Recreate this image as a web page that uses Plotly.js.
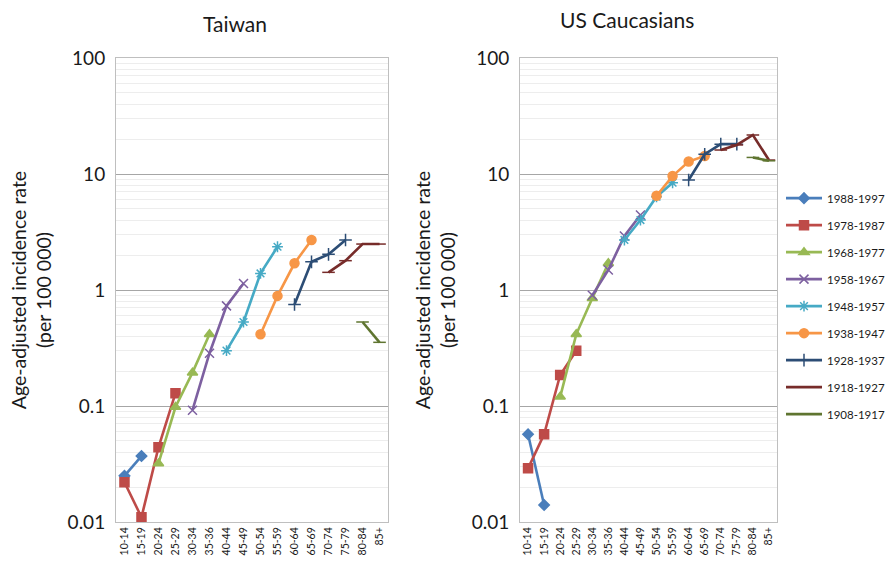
<!DOCTYPE html>
<html>
<head>
<meta charset="utf-8">
<script src="https://cdn.plot.ly/plotly-3.0.1.min.js"></script>
<style>html,body{margin:0;padding:0;background:#fff;}#chart{width:890px;height:565px;}</style>
</head>
<body>
<div id="chart"></div>
<script>
const ageGroups = ["10-14","15-19","20-24","25-29","30-34","35-36","40-44","45-49","50-54","55-59","60-64","65-69","70-74","75-79","80-84","85+"];
const cohorts = ["1988-1997","1978-1987","1968-1977","1958-1967","1948-1957","1938-1947","1928-1937","1918-1927","1908-1917"];
const yTickVals = [0.01, 0.1, 1, 10, 100];
const yTickText = ["0.01","0.1","1","10","100"];

// Taiwan, per 100 000 (null = not observed)
const tw_1988 = [0.025,0.037,null,null,null,null,null,null,null,null,null,null,null,null,null,null];
const tw_1978 = [0.022,0.011,0.044,0.129,null,null,null,null,null,null,null,null,null,null,null,null];
const tw_1968 = [null,null,0.032,0.098,0.194,0.415,null,null,null,null,null,null,null,null,null,null];
const tw_1958 = [null,null,null,null,0.092,0.285,0.73,1.14,null,null,null,null,null,null,null,null];
const tw_1948 = [null,null,null,null,null,null,0.30,0.53,1.39,2.36,null,null,null,null,null,null];
const tw_1938 = [null,null,null,null,null,null,null,null,0.415,0.89,1.70,2.70,null,null,null,null];
const tw_1928 = [null,null,null,null,null,null,null,null,null,null,0.75,1.75,2.03,2.70,null,null];
const tw_1918 = [null,null,null,null,null,null,null,null,null,null,null,null,1.42,1.79,2.49,2.49];
const tw_1908 = [null,null,null,null,null,null,null,null,null,null,null,null,null,null,0.53,0.354];

// US Caucasians, per 100 000
const us_1988 = [0.057,0.014,null,null,null,null,null,null,null,null,null,null,null,null,null,null];
const us_1978 = [0.029,0.057,0.185,0.30,null,null,null,null,null,null,null,null,null,null,null,null];
const us_1968 = [null,null,0.12,0.415,0.85,1.70,null,null,null,null,null,null,null,null,null,null];
const us_1958 = [null,null,null,null,0.90,1.49,2.92,4.43,null,null,null,null,null,null,null,null];
const us_1948 = [null,null,null,null,null,null,2.70,4.01,6.37,8.41,null,null,null,null,null,null];
const us_1938 = [null,null,null,null,null,null,null,null,6.5,9.6,12.8,14.3,null,null,null,null];
const us_1928 = [null,null,null,null,null,null,null,null,null,null,8.88,14.8,18.1,18.1,null,null];
const us_1918 = [null,null,null,null,null,null,null,null,null,null,null,null,16.1,17.8,21.7,13.2];
const us_1908 = [null,null,null,null,null,null,null,null,null,null,null,null,null,null,13.9,13.0];

const taiwanSeries = [tw_1988,tw_1978,tw_1968,tw_1958,tw_1948,tw_1938,tw_1928,tw_1918,tw_1908];
const usSeries = [us_1988,us_1978,us_1968,us_1958,us_1948,us_1938,us_1928,us_1918,us_1908];

const colors = ["#4A7EBB","#BE4B48","#98B954","#7D60A0","#46AAC5","#F79646","#2C4D75","#772C2A","#5F7530"];
const symbols = ["diamond","square","triangle-up","x-thin-open","asterisk-open","circle","cross-thin-open","line-ew-open","line-ew-open"];
const sizes = [8,9,9,9,9,9,9,9,9];

// minor gridline positions: 2..9 within each decade
const minorVals = [];
for (let e = -2; e < 2; e++) for (let m = 2; m <= 9; m++) minorVals.push(m * Math.pow(10, e));

const traces = [];
function addSet(series, xa, ya, show) {
  series.forEach((ys, i) => {
    traces.push({
      type: "scatter", mode: "lines+markers",
      x: ageGroups, y: ys, xaxis: xa, yaxis: ya,
      name: cohorts[i], legendgroup: "g" + i, showlegend: show,
      connectgaps: false,
      line: {color: colors[i], width: 2.6},
      marker: {symbol: symbols[i], size: sizes[i], color: colors[i], line: {color: colors[i], width: 1.5}}
    });
  });
}
addSet(taiwanSeries, "x", "y", true);
addSet(usSeries, "x2", "y2", false);

const font = "Lato, Open Sans, sans-serif";
const txt = "#1a1a1a";
function xax(domain, anchor) {
  return {
    domain: domain, anchor: anchor, type: "category",
    categoryorder: "array", categoryarray: ageGroups,
    range: [-0.5, 15.5], tickangle: -90,
    tickfont: {size: 10.5, color: txt, family: font},
    showgrid: false, showline: true, mirror: true, linecolor: "#BFBFBF", linewidth: 1,
    ticks: "", zeroline: false, fixedrange: true
  };
}
function yax(domain, anchor) {
  return {
    domain: domain, anchor: anchor, type: "log",
    range: [-2, 2], tickvals: yTickVals, ticktext: yTickText,
    tickfont: {size: 19, color: txt, family: font},
    ticklabelstandoff: 6,
    showgrid: true, gridcolor: "#A6A6A6", gridwidth: 1,
    minor: {tickvals: minorVals, showgrid: true, gridcolor: "#EDEDED", gridwidth: 1, ticks: ""},
    showline: true, mirror: true, linecolor: "#BFBFBF", linewidth: 1,
    ticks: "", zeroline: false,
    title: {text: "Age-adjusted incidence rate<br>(per 100 000)", font: {size: 19.5, color: txt, family: font}, standoff: 10}
  };
}

const layout = {
  width: 890, height: 565,
  margin: {l: 0, r: 0, t: 0, b: 0},
  paper_bgcolor: "#fff", plot_bgcolor: "#fff",
  font: {family: font, color: txt},
  xaxis: xax([0.1303, 0.4360], "y"),
  yaxis: yax([0.0761, 0.8973], "x"),
  xaxis2: xax([0.5843, 0.8730], "y2"),
  yaxis2: yax([0.0761, 0.8973], "x2"),
  showlegend: true,
  legend: {
    x: 0.878, y: 0.675, xanchor: "left", yanchor: "top",
    font: {size: 11.5, color: txt, family: font},
    tracegroupgap: 8, itemwidth: 36, bgcolor: "rgba(0,0,0,0)"
  },
  annotations: [
    {text: "Taiwan", x: 0.264, y: 0.958, xref: "paper", yref: "paper", xanchor: "center", yanchor: "middle", showarrow: false, font: {size: 21, color: txt, family: font}},
    {text: "US Caucasians", x: 0.705, y: 0.966, xref: "paper", yref: "paper", xanchor: "center", yanchor: "middle", showarrow: false, font: {size: 21, color: txt, family: font}}
  ]
};

Plotly.newPlot("chart", traces, layout, {displayModeBar: false, staticPlot: true});
</script>
</body>
</html>
